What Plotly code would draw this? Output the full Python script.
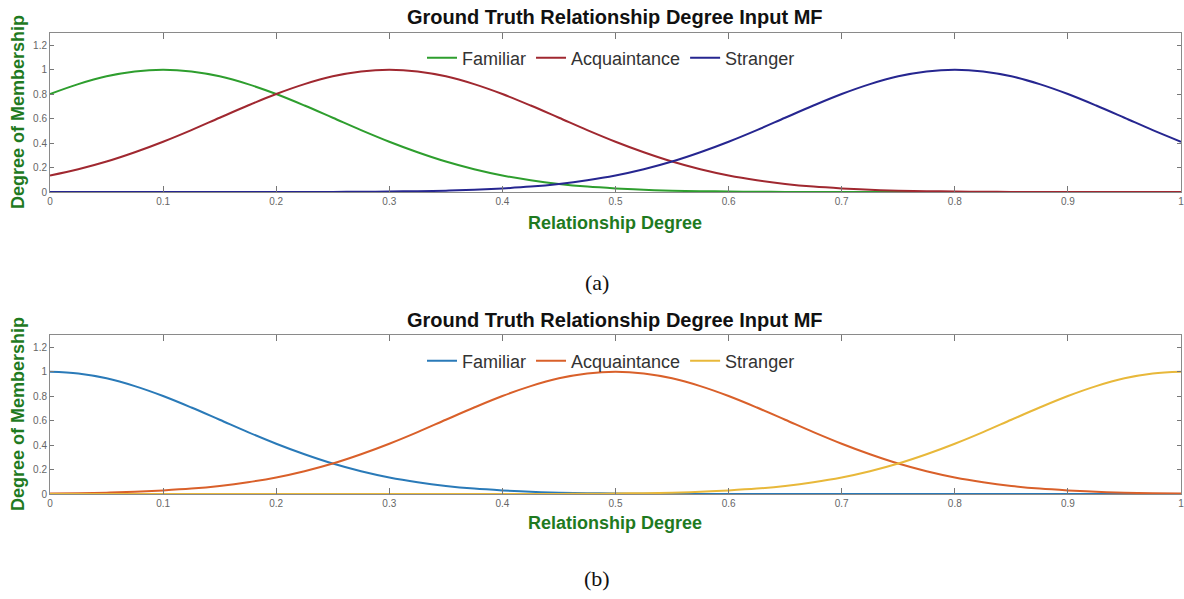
import plotly.graph_objects as go

# Sample positions along Relationship Degree (read every 0.025)
x_vals = [round(i * 0.025, 3) for i in range(41)]

# (a) membership values
a_familiar = [0.801, 0.882, 0.946, 0.986, 1.000, 0.986, 0.946, 0.882, 0.801, 0.707, 0.607,
              0.506, 0.411, 0.325, 0.249, 0.186, 0.135, 0.096, 0.066, 0.044, 0.029,
              0.018, 0.011, 0.007, 0.004, 0.002, 0.001, 0.001, 0.000, 0.000, 0.000,
              0.000, 0.000, 0.000, 0.000, 0.000, 0.000, 0.000, 0.000, 0.000, 0.000]
a_acquaint = [0.135, 0.186, 0.249, 0.325, 0.411, 0.506, 0.607, 0.707, 0.801, 0.882, 0.946,
              0.986, 1.000, 0.986, 0.946, 0.882, 0.801, 0.707, 0.607, 0.506, 0.411,
              0.325, 0.249, 0.186, 0.135, 0.096, 0.066, 0.044, 0.029, 0.018, 0.011,
              0.007, 0.004, 0.002, 0.001, 0.001, 0.000, 0.000, 0.000, 0.000, 0.000]
a_stranger = [0.000, 0.000, 0.000, 0.000, 0.000, 0.000, 0.000, 0.000, 0.000, 0.001, 0.001,
              0.002, 0.004, 0.007, 0.011, 0.018, 0.029, 0.044, 0.066, 0.096, 0.135,
              0.186, 0.249, 0.325, 0.411, 0.506, 0.607, 0.707, 0.801, 0.882, 0.946,
              0.986, 1.000, 0.986, 0.946, 0.882, 0.801, 0.707, 0.607, 0.506, 0.411]

# (b) membership values
b_familiar = [1.000, 0.986, 0.946, 0.882, 0.801, 0.707, 0.607, 0.506, 0.411, 0.325, 0.249,
              0.186, 0.135, 0.096, 0.066, 0.044, 0.029, 0.018, 0.011, 0.007, 0.004,
              0.002, 0.001, 0.001, 0.000, 0.000, 0.000, 0.000, 0.000, 0.000, 0.000,
              0.000, 0.000, 0.000, 0.000, 0.000, 0.000, 0.000, 0.000, 0.000, 0.000]
b_acquaint = [0.004, 0.007, 0.011, 0.018, 0.029, 0.044, 0.066, 0.096, 0.135, 0.186, 0.249,
              0.325, 0.411, 0.506, 0.607, 0.707, 0.801, 0.882, 0.946, 0.986, 1.000,
              0.986, 0.946, 0.882, 0.801, 0.707, 0.607, 0.506, 0.411, 0.325, 0.249,
              0.186, 0.135, 0.096, 0.066, 0.044, 0.029, 0.018, 0.011, 0.007, 0.004]
b_stranger = [0.000, 0.000, 0.000, 0.000, 0.000, 0.000, 0.000, 0.000, 0.000, 0.000, 0.000,
              0.000, 0.000, 0.000, 0.000, 0.000, 0.000, 0.001, 0.001, 0.002, 0.004,
              0.007, 0.011, 0.018, 0.029, 0.044, 0.066, 0.096, 0.135, 0.186, 0.249,
              0.325, 0.411, 0.506, 0.607, 0.707, 0.801, 0.882, 0.946, 0.986, 1.000]

series_names = ["Familiar", "Acquaintance", "Stranger"]
x_ticks = [0, 0.1, 0.2, 0.3, 0.4, 0.5, 0.6, 0.7, 0.8, 0.9, 1]
x_ticklabels = ["0", "0.1", "0.2", "0.3", "0.4", "0.5", "0.6", "0.7", "0.8", "0.9", "1"]
y_ticks = [0, 0.2, 0.4, 0.6, 0.8, 1, 1.2]
y_ticklabels = ["0", "0.2", "0.4", "0.6", "0.8", "1", "1.2"]

title_text = "Ground Truth Relationship Degree Input MF"
xlabel = "Relationship Degree"
ylabel = "Degree of Membership"

colors_a = ["#2e9e2e", "#a02830", "#262690"]
colors_b = ["#2a7ab8", "#d9602a", "#e8b83a"]

W, H = 1184, 599

def py(p):
    return 1 - p / H

def px(p):
    return p / W

fig = go.Figure()

for ys, name, col in zip([a_familiar, a_acquaint, a_stranger], series_names, colors_a):
    fig.add_trace(go.Scatter(x=x_vals, y=ys, name=name, mode="lines",
                             line=dict(color=col, width=2, shape="spline", smoothing=1.0),
                             xaxis="x", yaxis="y", legend="legend"))
for ys, name, col in zip([b_familiar, b_acquaint, b_stranger], series_names, colors_b):
    fig.add_trace(go.Scatter(x=x_vals, y=ys, name=name, mode="lines",
                             line=dict(color=col, width=2, shape="spline", smoothing=1.0),
                             xaxis="x2", yaxis="y2", legend="legend2"))

tickfont = dict(family="Liberation Sans, Arial, sans-serif", size=10, color="#666666")
axis_common = dict(showline=True, linecolor="#8a8a8a", linewidth=1, mirror="ticks",
                   ticks="inside", tickcolor="#777777", showgrid=False, zeroline=False,
                   tickfont=tickfont, automargin=False, ticklabeloverflow="allow")

xdom = [px(50), px(1181)]
legend_font = dict(family="Liberation Sans, Arial, sans-serif", size=18, color="#333333")
fig.update_layout(
    width=W, height=H,
    margin=dict(l=0, r=0, t=0, b=0),
    paper_bgcolor="white", plot_bgcolor="white",
    xaxis=dict(domain=xdom, range=[0, 1], tickvals=x_ticks, ticktext=x_ticklabels,
               ticklen=6, anchor="y", **axis_common),
    yaxis=dict(domain=[py(192), py(33)], range=[0, 1.3], tickvals=y_ticks,
               ticktext=y_ticklabels, ticklen=4, anchor="x", **axis_common),
    xaxis2=dict(domain=xdom, range=[0, 1], tickvals=x_ticks, ticktext=x_ticklabels,
                ticklen=6, anchor="y2", **axis_common),
    yaxis2=dict(domain=[py(494), py(335)], range=[0, 1.3], tickvals=y_ticks,
                ticktext=y_ticklabels, ticklen=4, anchor="x2", **axis_common),
    legend=dict(orientation="h", x=px(611), xanchor="center", y=py(58), yanchor="middle",
                bgcolor="rgba(255,255,255,0)", font=legend_font, itemwidth=30,
                tracegroupgap=0),
    legend2=dict(orientation="h", x=px(611), xanchor="center", y=py(361), yanchor="middle",
                 bgcolor="rgba(255,255,255,0)", font=legend_font, itemwidth=30,
                 tracegroupgap=0),
    showlegend=True,
)

bold = dict(family="Liberation Sans, Arial, sans-serif", size=20, color="#111111")
green = dict(family="Liberation Sans, Arial, sans-serif", size=18, color="#1f7a1f")
serif = dict(family="Liberation Serif, Times New Roman, serif", size=22, color="#111111")

annots = []
for ty, xly, yly, sub, suby in [(17, 223, 112, "(a)", 282), (320, 523, 414, "(b)", 578)]:
    annots.append(dict(text="<b>" + title_text + "</b>", x=px(615), y=py(ty), xref="paper",
                       yref="paper", showarrow=False, font=bold, xanchor="center", yanchor="middle"))
    annots.append(dict(text="<b>" + xlabel + "</b>", x=px(615), y=py(xly), xref="paper",
                       yref="paper", showarrow=False, font=green, xanchor="center", yanchor="middle"))
    annots.append(dict(text="<b>" + ylabel + "</b>", x=px(18), y=py(yly), xref="paper",
                       yref="paper", showarrow=False, font=green, textangle=-90,
                       xanchor="center", yanchor="middle"))
    annots.append(dict(text=sub, x=px(597), y=py(suby), xref="paper", yref="paper",
                       showarrow=False, font=serif, xanchor="center", yanchor="middle"))
fig.update_layout(annotations=annots)

fig.write_html("out.html", config={"displayModeBar": False},
               post_script="document.body.style.margin='0';document.body.style.overflow='hidden';")
